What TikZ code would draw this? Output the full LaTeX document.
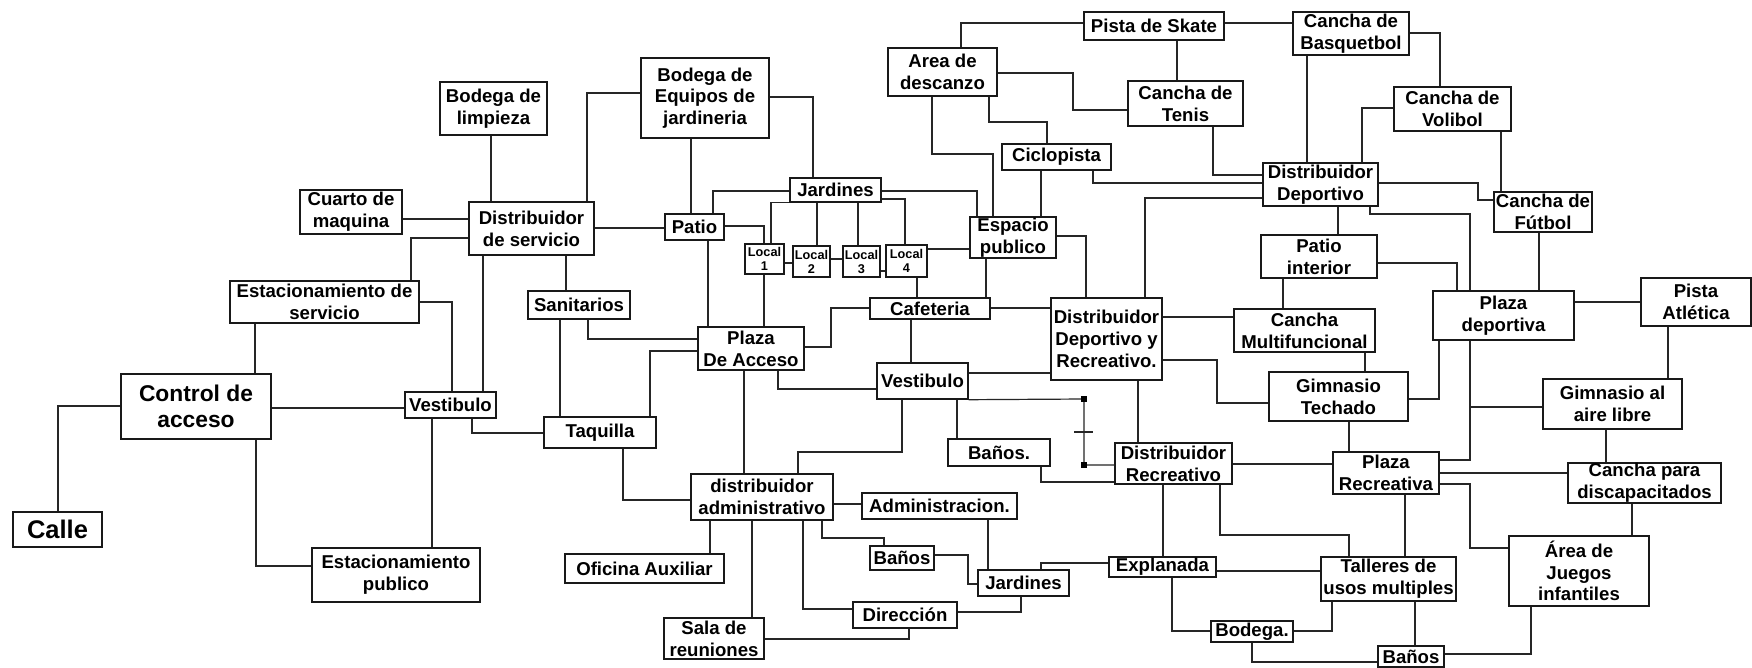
\documentclass[tikz,border=0pt]{standalone}
\usepackage{fontspec}
\setmainfont{Liberation Sans}
\newcommand\fsN{\fontsize{18.6}{21.7}\selectfont\bfseries}
\newcommand\fsS{\fontsize{12.7}{14}\selectfont\bfseries}
\newcommand\fsC{\fontsize{22.8}{26}\selectfont\bfseries}
\newcommand\fsK{\fontsize{25.5}{28}\selectfont\bfseries}
\begin{document}
\begin{tikzpicture}[x=1pt,y=-1pt,
  box/.style={draw=black!90, line width=1.4pt, fill=white, inner sep=0pt, align=center, font=\fsN},
  sbox/.style={box, font=\fsS},
  wire/.style={draw=black!85, line width=1.2pt}]
\useasboundingbox[fill=white] (0,0) rectangle (1752,667);
% nodes
\node[box,font=\fsK,minimum width=89pt,minimum height=35pt] (calle) at (57.5,529.5) {Calle};
\node[box,font=\fsC,minimum width=150pt,minimum height=65pt] (control) at (196,406.5) {Control de\\acceso};
\node[box,minimum width=189pt,minimum height=42pt] (estserv) at (324.5,302) {Estacionamiento de\\servicio};
\node[box,minimum width=168pt,minimum height=54pt] (estpub) at (396,575) {Estacionamiento\\publico};
\node[box,minimum width=102pt,minimum height=44pt] (cuarto) at (351,212) {Cuarto de\\maquina};
\node[box,minimum width=107pt,minimum height=53pt] (bodlimp) at (493.5,108.5) {Bodega de\\limpieza};
\node[box,minimum width=125pt,minimum height=53pt] (distserv) at (531.5,228.5) {Distribuidor\\de servicio};
\node[box,minimum width=91pt,minimum height=26pt] (vestL) at (450.5,405) {Vestibulo};
\node[box,minimum width=128pt,minimum height=80pt] (bodjard) at (705,98) {Bodega de\\Equipos de\\jardineria};
\node[box,minimum width=59pt,minimum height=26pt] (patio) at (694.5,227) {Patio};
\node[box,minimum width=102pt,minimum height=28pt] (sanit) at (579,305) {Sanitarios};
\node[box,minimum width=112pt,minimum height=31pt] (taquilla) at (600,432.5) {Taquilla};
\node[box,minimum width=106pt,minimum height=43pt] (plazaacc) at (751,348.5) {Plaza\\De Acceso};
\node[box,minimum width=91pt,minimum height=24pt] (jardT) at (835.5,190) {Jardines};
\node[sbox,minimum width=39pt,minimum height=30pt] (local1) at (764.5,259) {Local\\1};
\node[sbox,minimum width=37pt,minimum height=31pt] (local2) at (811.5,261.5) {Local\\2};
\node[sbox,minimum width=37pt,minimum height=31pt] (local3) at (861.5,261.5) {Local\\3};
\node[sbox,minimum width=41pt,minimum height=32pt] (local4) at (906.5,261) {Local\\4};
\node[box,minimum width=86pt,minimum height=41pt] (espacio) at (1013,237.5) {Espacio\\publico};
\node[box,minimum width=120pt,minimum height=21pt] (cafe) at (930,308.5) {Cafeteria};
\node[box,minimum width=91pt,minimum height=36pt] (vestC) at (922.5,381) {Vestibulo};
\node[box,minimum width=111pt,minimum height=82pt] (ddyr) at (1106.5,339) {Distribuidor\\Deportivo y\\Recreativo.};
\node[box,minimum width=102pt,minimum height=27pt] (banosP) at (999,452.5) {Baños.};
\node[box,minimum width=142pt,minimum height=46pt] (distadm) at (762,497) {distribuidor\\administrativo};
\node[box,minimum width=159pt,minimum height=29pt] (ofaux) at (644.5,568.5) {Oficina Auxiliar};
\node[box,minimum width=100pt,minimum height=41pt] (sala) at (714,638.5) {Sala de\\reuniones};
\node[box,minimum width=155pt,minimum height=26pt] (admin) at (939.5,506) {Administracion.};
\node[box,minimum width=64pt,minimum height=24pt] (banosA) at (902,558) {Baños};
\node[box,minimum width=91pt,minimum height=26pt] (jardB) at (1023.5,583) {Jardines};
\node[box,minimum width=104pt,minimum height=26pt] (direccion) at (905,615) {Dirección};
\node[box,minimum width=109pt,minimum height=48pt] (area) at (942.5,72) {Area de\\descanzo};
\node[box,minimum width=140pt,minimum height=28pt] (pista) at (1154,26) {Pista de Skate};
\node[box,minimum width=115pt,minimum height=45pt] (tenis) at (1185.5,103.5) {Cancha de\\Tenis};
\node[box,minimum width=109pt,minimum height=26pt] (ciclo) at (1056.5,157) {Ciclopista};
\node[box,minimum width=116pt,minimum height=43pt] (basq) at (1351,33.5) {Cancha de\\Basquetbol};
\node[box,minimum width=117pt,minimum height=44pt] (voli) at (1452.5,109) {Cancha de\\Volibol};
\node[box,minimum width=115pt,minimum height=43pt] (distdep) at (1320.5,184.5) {Distribuidor\\Deportivo};
\node[box,minimum width=98pt,minimum height=40pt] (futbol) at (1543,212) {Cancha de\\Fútbol};
\node[box,minimum width=116pt,minimum height=43pt] (patioint) at (1319,256.5) {Patio\\interior};
\node[box,minimum width=141pt,minimum height=43pt] (multi) at (1304.5,330.5) {Cancha\\Multifuncional};
\node[box,minimum width=139pt,minimum height=49pt] (gimtech) at (1338.5,396.5) {Gimnasio\\Techado};
\node[box,minimum width=141pt,minimum height=49pt] (plazadep) at (1503.5,315.5) {Plaza\\deportiva};
\node[box,minimum width=110pt,minimum height=48pt] (pistaatl) at (1696,302) {Pista\\Atlética};
\node[box,minimum width=139pt,minimum height=50pt] (gimaire) at (1612.5,404) {Gimnasio al\\aire libre};
\node[box,minimum width=117pt,minimum height=41pt] (distrec) at (1173.5,463.5) {Distribuidor\\Recreativo};
\node[box,minimum width=106pt,minimum height=42pt] (plazarec) at (1386,473) {Plaza\\Recreativa};
\node[box,minimum width=153pt,minimum height=40pt] (discap) at (1644.5,483) {Cancha para\\discapacitados};
\node[box,minimum width=140pt,minimum height=70pt] (juegos) at (1579,571) {Área de\\Juegos\\infantiles};
\node[box,minimum width=107pt,minimum height=20pt] (explanada) at (1162.5,567) {Explanada};
\node[box,minimum width=135pt,minimum height=44pt] (talleres) at (1388.5,579) {Talleres de\\usos multiples};
\node[box,minimum width=82pt,minimum height=21pt] (bodega) at (1252,631.5) {Bodega.};
\node[box,minimum width=66pt,minimum height=21pt] (banosR) at (1411,656.5) {Baños};
% helper coordinates
\coordinate (j1) at (1470,407);
\coordinate (h1) at (1084,399);
\coordinate (h2) at (1084,465);
\coordinate (t1) at (1074,432);
\coordinate (t2) at (1093,432);
% connectors
\begin{scope}[wire]
\draw (calle.north -| 58,0) |- (control.west |- 0,406);
\draw (control.east |- 0,408) -- (vestL.west |- 0,408);
\draw (control.south -| 256,0) |- (estpub.west |- 0,566);
\draw (estserv.south -| 255,0) -- (control.north -| 255,0);
\draw (estserv.east |- 0,302) -| (vestL.north -| 452,0);
\draw (distserv.west |- 0,238) -| (estserv.north -| 411,0);
\draw (cuarto.east |- 0,219) -- (distserv.west |- 0,219);
\draw (bodlimp.south -| 491,0) -- (distserv.north -| 491,0);
\draw (distserv.north -| 587,0) |- (bodjard.west |- 0,93);
\draw (bodjard.east |- 0,97) -| (jardT.north -| 813,0);
\draw (bodjard.south -| 691,0) -- (patio.north -| 691,0);
\draw (distserv.east |- 0,228) -- (patio.west |- 0,228);
\draw (jardT.west |- 0,191) -| (patio.north -| 713,0);
\draw (patio.east |- 0,226) -| (local1.north -| 764,0);
\draw (jardT.south west) -| (local1.north -| 771,0);
\draw (jardT.south -| 817,0) -- (local2.north -| 817,0);
\draw (jardT.south -| 858,0) -- (local3.north -| 858,0);
\draw (jardT.east |- 0,199) -| (local4.north -| 905,0);
\draw (jardT.east |- 0,191) -| (espacio.north -| 977,0);
\draw (local1.east |- 0,263) -- (local2.west |- 0,263);
\draw (local2.east |- 0,259) -- (local3.west |- 0,259);
\draw (local3.east |- 0,271) -- (local4.west |- 0,271);
\draw (local4.east |- 0,249) -- (espacio.west |- 0,249);
\draw (local1.south -| 764,0) -- (plazaacc.north -| 764,0);
\draw (patio.south -| 708,0) -- (plazaacc.north -| 708,0);
\draw (distserv.south -| 566,0) -- (sanit.north -| 566,0);
\draw (sanit.south -| 588,0) |- (plazaacc.west |- 0,339);
\draw (sanit.south -| 560,0) -- (taquilla.north -| 560,0);
\draw (taquilla.north -| 650,0) |- (plazaacc.west |- 0,351);
\draw (distserv.south -| 483,0) -- (vestL.north -| 483,0);
\draw (vestL.south -| 472,0) |- (taquilla.west |- 0,433);
\draw (vestL.south -| 432,0) -- (estpub.north -| 432,0);
\draw (plazaacc.east |- 0,347) -| (831,308) -- (cafe.west |- 0,308);
\draw (plazaacc.south -| 778,0) |- (vestC.west |- 0,389);
\draw (plazaacc.south -| 744,0) -- (distadm.north -| 744,0);
\draw (local4.south -| 917,0) -- (cafe.north -| 917,0);
\draw (espacio.south -| 986,0) -- (cafe.north -| 986,0);
\draw (cafe.east |- 0,308) -- (ddyr.west |- 0,308);
\draw (cafe.south -| 911,0) -- (vestC.north -| 911,0);
\draw (vestC.east |- 0,373) -- (ddyr.west |- 0,373);
\draw (espacio.east |- 0,236) -| (ddyr.north -| 1086,0);
\draw (area.south -| 932,0) |- (993,154) -- (espacio.north -| 993,0);
\draw (area.south -| 989,0) |- (1047,122) -- (ciclo.north -| 1047,0);
\draw (ciclo.south -| 1041,0) -- (espacio.north -| 1041,0);
\draw (ciclo.south -| 1093,0) |- (distdep.west |- 0,183);
\draw (area.east |- 0,73) -| (1073,110) -- (tenis.west |- 0,110);
\draw (pista.west |- 0,23) -| (area.north -| 961,0);
\draw (pista.east |- 0,23) -- (basq.west |- 0,23);
\draw (pista.south -| 1177,0) -- (tenis.north -| 1177,0);
\draw (tenis.south -| 1213,0) |- (distdep.west |- 0,175);
\draw (distdep.west |- 0,198) -| (ddyr.north -| 1145,0);
\draw (basq.south -| 1307,0) -- (distdep.north -| 1307,0);
\draw (basq.east |- 0,33) -| (voli.north -| 1440,0);
\draw (voli.west |- 0,108) -| (distdep.north -| 1362,0);
\draw (voli.south -| 1501,0) -- (futbol.north -| 1501,0);
\draw (distdep.east |- 0,183) -| (1478,200) -- (futbol.west |- 0,200);
\draw (distdep.south -| 1370,0) |- (1470,214) -- (plazadep.north -| 1470,0);
\draw (distdep.south -| 1338,0) -- (patioint.north -| 1338,0);
\draw (patioint.east |- 0,263) -| (plazadep.north -| 1457,0);
\draw (futbol.south -| 1539,0) -- (plazadep.north -| 1539,0);
\draw (patioint.south -| 1283,0) -- (multi.north -| 1283,0);
\draw (ddyr.east |- 0,317) -- (multi.west |- 0,317);
\draw (ddyr.east |- 0,360) -| (1217,403) -- (gimtech.west |- 0,403);
\draw (multi.south -| 1365,0) -- (gimtech.north -| 1365,0);
\draw (gimtech.east |- 0,399) -| (plazadep.south -| 1439,0);
\draw (plazadep.east |- 0,302) -- (pistaatl.west |- 0,302);
\draw (pistaatl.south -| 1668,0) -- (gimaire.north -| 1668,0);
\draw (plazadep.south -| 1470,0) |- (plazarec.east |- 0,460);
\draw (j1) -- (gimaire.west |- j1);
\draw (gimaire.south -| 1606,0) -- (discap.north -| 1606,0);
\draw (gimtech.south -| 1349,0) -- (plazarec.north -| 1349,0);
\draw (ddyr.south -| 1138,0) -- (distrec.north -| 1138,0);
\draw (vestC.south east) -- (h1) -- (h2) -- (distrec.west |- h2);
\draw (t1) -- (t2);
\draw (vestC.south -| 957,0) -- (banosP.north -| 957,0);
\draw (banosP.south -| 1041,0) |- (distrec.west |- 0,482);
\draw (vestC.south -| 902,0) |- (798,452) -- (distadm.north -| 798,0);
\draw (taquilla.south -| 623,0) |- (distadm.west |- 0,500);
\draw (distadm.east |- 0,504) -- (admin.west |- 0,504);
\draw (admin.south -| 988,0) -- (jardB.north -| 988,0);
\draw (distadm.south -| 822,0) |- (884,538) -- (banosA.north -| 884,0);
\draw (banosA.east |- 0,555) -| (968,584) -- (jardB.west |- 0,584);
\draw (jardB.south -| 1021,0) |- (direccion.east |- 0,612);
\draw (distadm.south -| 803,0) |- (direccion.west |- 0,609);
\draw (distadm.south -| 752,0) -- (sala.north -| 752,0);
\draw (sala.east |- 0,639) -| (direccion.south -| 909,0);
\draw (distadm.south -| 710,0) -- (ofaux.north -| 710,0);
\draw (distrec.east |- 0,464) -- (plazarec.west |- 0,464);
\draw (distrec.south -| 1163,0) -- (explanada.north -| 1163,0);
\draw (distrec.south -| 1220,0) |- (1349,535) -- (talleres.north -| 1349,0);
\draw (explanada.west |- 0,563) -| (jardB.north -| 1041,0);
\draw (explanada.east |- 0,571) -- (talleres.west |- 0,571);
\draw (explanada.south -| 1172,0) |- (bodega.west |- 0,631);
\draw (bodega.east |- 0,631) -| (talleres.south -| 1332,0);
\draw (bodega.south -| 1252,0) |- (banosR.west |- 0,662);
\draw (plazarec.east |- 0,473) -- (discap.west |- 0,473);
\draw (plazarec.east |- 0,484) -| (1470,548) -- (juegos.west |- 0,548);
\draw (discap.south -| 1632,0) -- (juegos.north -| 1632,0);
\draw (plazarec.south -| 1405,0) -- (talleres.north -| 1405,0);
\draw (talleres.south -| 1415,0) -- (banosR.north -| 1415,0);
\draw (juegos.south -| 1531,0) |- (banosR.east |- 0,654);
\end{scope}
\fill[black] ([shift={(-3,-3)}]h1) rectangle ++(6,6);
\fill[black] ([shift={(-3,-3)}]h2) rectangle ++(6,6);
\end{tikzpicture}
\end{document}
